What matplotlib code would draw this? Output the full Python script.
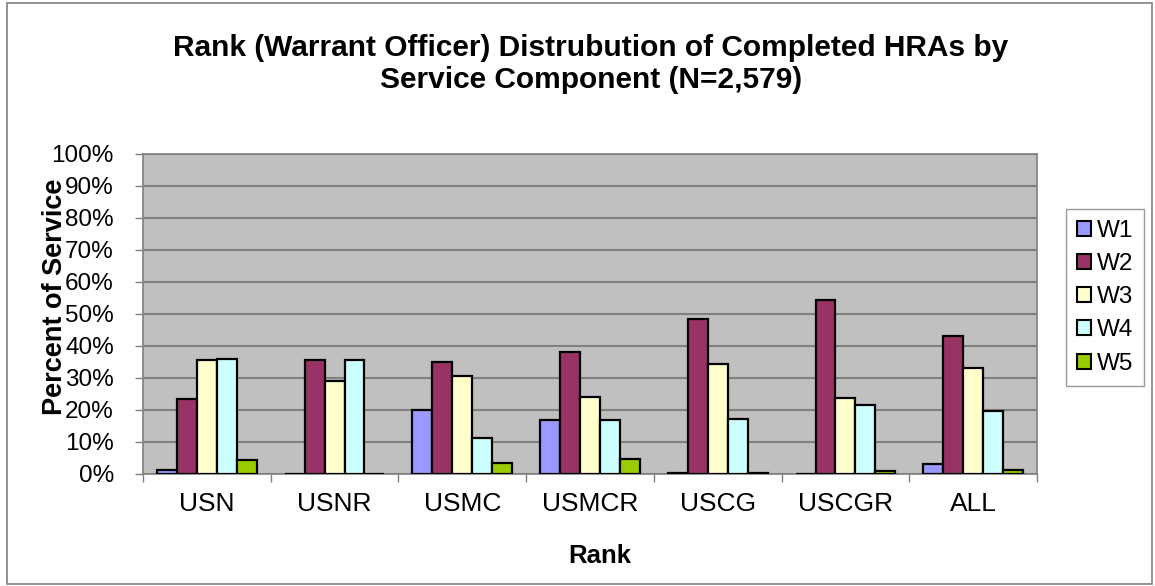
import matplotlib
matplotlib.use("Agg")
import matplotlib.pyplot as plt
import numpy as np
from matplotlib.patches import Rectangle

categories = ["USN", "USNR", "USMC", "USMCR", "USCG", "USCGR", "ALL"]
series_names = ["W1", "W2", "W3", "W4", "W5"]
W1 = [1.25, 0.0, 19.8, 16.7, 0.3, 0.0, 3.1]
W2 = [23.5, 35.4, 34.8, 38.1, 48.5, 54.2, 43.1]
W3 = [35.5, 29.1, 30.6, 23.9, 34.2, 23.7, 33.1]
W4 = [35.7, 35.4, 11.2, 16.7, 17.0, 21.5, 19.6]
W5 = [4.2, 0.0, 3.4, 4.7, 0.2, 0.7, 1.2]
series = [W1, W2, W3, W4, W5]
colors = ["#9999FF", "#993366", "#FFFFCC", "#CCFFFF", "#99CC00"]
yticks = [0, 10, 20, 30, 40, 50, 60, 70, 80, 90, 100]

plt.rcParams['font.family'] = ['Liberation Sans', 'DejaVu Sans']

W, H = 1155, 586
fig = plt.figure(figsize=(W / 100, H / 100), dpi=100)
fig.patch.set_facecolor("white")
fig.patches.append(Rectangle((7 / W, 2 / H), (W - 10) / W, (H - 5) / H, transform=fig.transFigure,
                             fill=False, edgecolor="#808080", linewidth=1.2))

left, right, top, bottom = 143, 1037, 153.7, 473.7
ax = fig.add_axes([left / W, 1 - bottom / H, (right - left) / W, (bottom - top) / H])
ax.set_facecolor("#C0C0C0")

n = len(categories)
x = np.arange(n)
bw = 0.156
for i, (vals, c, name) in enumerate(zip(series, colors, series_names)):
    offs = (i - 2) * bw
    ax.bar(x + offs, vals, width=bw, color=c, edgecolor="black", linewidth=1.6, label=name, zorder=3)

ax.set_xlim(-0.5, n - 0.5)
ax.set_ylim(0, 100)
ax.set_yticks(yticks)
ax.set_yticklabels([f"{t}%" for t in yticks], fontsize=17.5)
ax.yaxis.grid(True, color="#808080", linewidth=1.5, zorder=0)
ax.set_axisbelow(True)

ax.set_xticks(x)
ax.set_xticklabels(categories, fontsize=19)
ax.tick_params(axis="x", length=0, pad=13)
ax.set_xticks(np.arange(-0.5, n, 1), minor=True)
ax.tick_params(axis="x", which="minor", length=6, width=1, color="#808080")
ax.tick_params(axis="y", length=6, width=1, color="#808080", pad=15)

for s in ["top", "right", "left", "bottom"]:
    ax.spines[s].set_color("#808080")
    ax.spines[s].set_linewidth(1.2)

fig.text(55 / W, 1 - 297 / H, "Percent of Service", rotation=90, ha="center", va="center",
         fontsize=19.5, fontweight="bold")
fig.text(600 / W, 1 - 563 / H, "Rank", ha="center", va="baseline", fontsize=18.5, fontweight="bold")

fig.text(591 / W, 1 - 64 / H, "Rank (Warrant Officer) Distrubution of Completed HRAs by\nService Component (N=2,579)",
         ha="center", va="center", fontsize=21.5, fontweight="bold", linespacing=1.15)

leg = ax.legend(loc="upper left", bbox_to_anchor=(1066 / W, 1 - 209 / H), bbox_transform=fig.transFigure,
                fontsize=17.5, frameon=True, fancybox=False, edgecolor="#808080", borderaxespad=0,
                handlelength=0.58, handleheight=0.58, handletextpad=0.25, labelspacing=0.46,
                borderpad=0.45)
leg.get_frame().set_linewidth(1)
for h in leg.legend_handles:
    h.set_linewidth(1.5)

fig.savefig("out.png", dpi=100)
